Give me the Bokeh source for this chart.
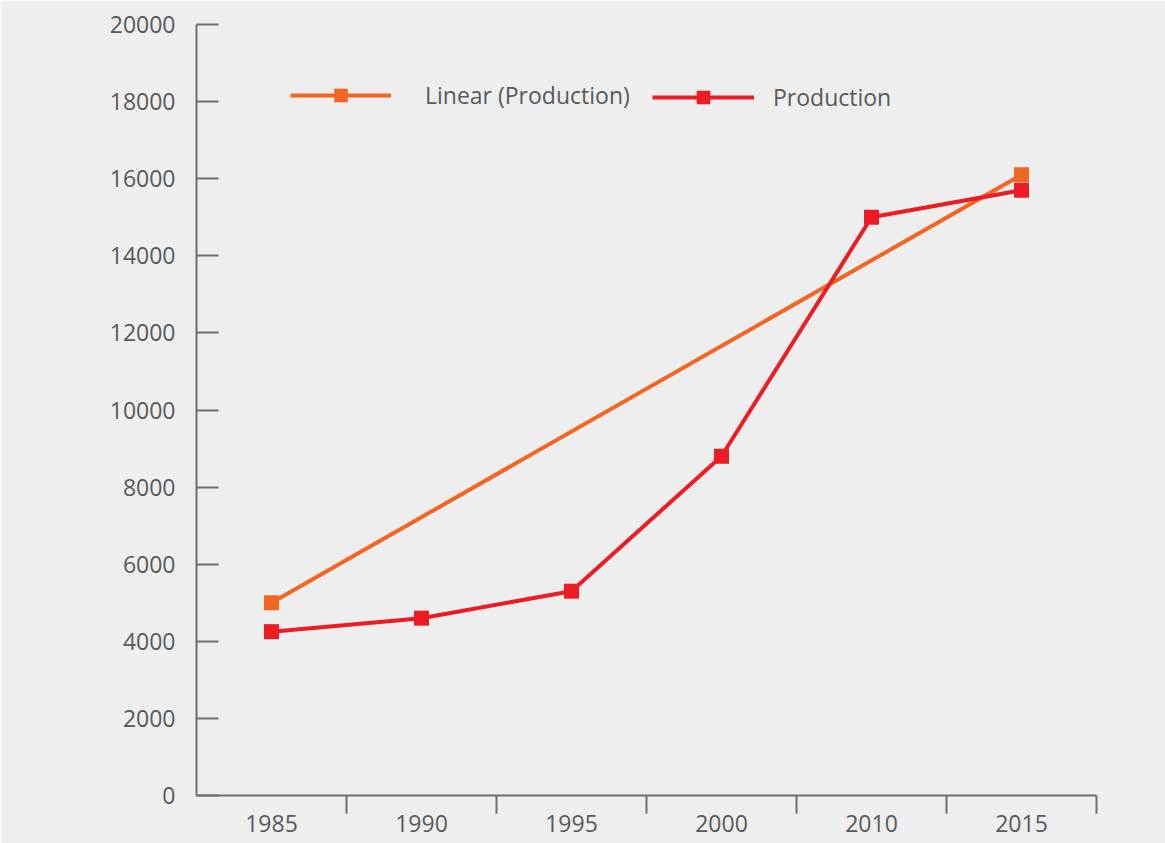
from bokeh.plotting import figure
from bokeh.models import Range1d, FixedTicker, Legend, LegendItem
from bokeh.embed import file_html
from bokeh.resources import INLINE

years = ["1985", "1990", "1995", "2000", "2010", "2015"]
production = [4250, 4600, 5300, 8800, 15000, 15700]
linear_years = ["1985", "2015"]
linear_values = [5000, 16100]
y_ticks = [0, 2000, 4000, 6000, 8000, 10000, 12000, 14000, 16000, 18000, 20000]

ORANGE = "#F26522"
RED = "#ED1C24"
AXIS = "#6D6E71"
TEXT = "#58595B"
BG = "#EEEEEE"
FONT = "Open Sans"

pos = {y: i + 0.5 for i, y in enumerate(years)}
x_prod = [pos[y] for y in years]
x_lin = [pos[y] for y in linear_years]

p = figure(width=1165, height=843, output_backend="svg", toolbar_location=None,
           x_range=Range1d(0, len(years)), y_range=Range1d(0, 20000),
           min_border_left=196, min_border_right=69, min_border_top=24, min_border_bottom=48)
p.background_fill_color = BG
p.border_fill_color = BG
p.outline_line_color = None
p.xgrid.visible = False
p.ygrid.visible = False

lin_line = p.line(x_lin, linear_values, line_color=ORANGE, line_width=4)
lin_pts = p.scatter(x_lin, linear_values, marker="square", size=15, fill_color=ORANGE, line_color=None)
prod_line = p.line(x_prod, production, line_color=RED, line_width=4)
prod_pts = p.scatter(x_prod, production, marker="square", size=15, fill_color=RED, line_color=None)

xa = p.xaxis[0]
xa.ticker = FixedTicker(ticks=x_prod, minor_ticks=[i + 1 for i in range(len(years))])
xa.major_label_overrides = {pos[y]: y for y in years}
xa.major_tick_line_color = None
xa.major_tick_out = 0
xa.major_tick_in = 0
xa.minor_tick_line_color = AXIS
xa.minor_tick_line_width = 2
xa.minor_tick_out = 18
xa.minor_tick_in = 0
xa.axis_line_color = AXIS
xa.axis_line_width = 2
xa.major_label_standoff = 1
xa.major_label_text_font = FONT
xa.major_label_text_font_size = "23px"
xa.major_label_text_color = TEXT

ya = p.yaxis[0]
ya.ticker = FixedTicker(ticks=y_ticks, minor_ticks=[])
ya.major_tick_line_color = AXIS
ya.major_tick_line_width = 2
ya.major_tick_in = 22
ya.major_tick_out = 0
ya.minor_tick_line_color = None
ya.axis_line_color = AXIS
ya.axis_line_width = 2
ya.major_label_standoff = 21
ya.major_label_text_font = FONT
ya.major_label_text_font_size = "23px"
ya.major_label_text_color = TEXT


def make_legend(label, renderers, loc, width, standoff):
    lg = Legend(items=[LegendItem(label=label, renderers=renderers)],
                orientation="horizontal", location=loc)
    lg.background_fill_alpha = 0
    lg.border_line_color = None
    lg.padding = 0
    lg.margin = 0
    lg.spacing = 0
    lg.glyph_width = width
    lg.glyph_height = 34
    lg.label_standoff = standoff
    lg.label_text_font = FONT
    lg.label_text_font_size = "23px"
    lg.label_text_color = TEXT
    return lg


p.add_layout(make_legend("Linear (Production)", [lin_line, lin_pts], (94, 683), 101, 34))
p.add_layout(make_legend("Production", [prod_line, prod_pts], (456, 681), 102, 19))

open("out.html", "w").write(file_html(p, INLINE))
